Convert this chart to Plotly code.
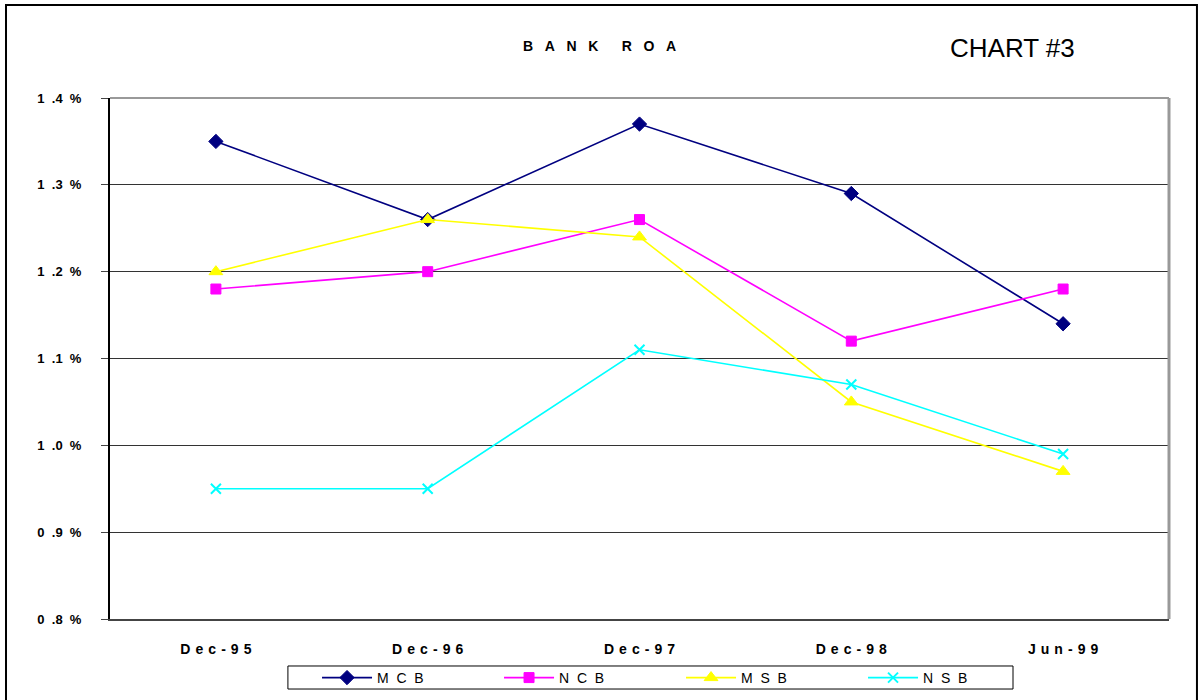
import plotly.graph_objects as go

categories = ["Dec-95", "Dec-96", "Dec-97", "Dec-98", "Jun-99"]
mcb = [1.35, 1.26, 1.37, 1.29, 1.14]
ncb = [1.18, 1.20, 1.26, 1.12, 1.18]
msb = [1.20, 1.26, 1.24, 1.05, 0.97]
nsb = [0.95, 0.95, 1.11, 1.07, 0.99]
y_ticks = [0.8, 0.9, 1.0, 1.1, 1.2, 1.3, 1.4]
series_names = ["MCB", "NCB", "MSB", "NSB"]

NB = "\u00a0"
HS = "\u200a"


def spaced(s, sep):
    return sep.join(list(s))


cat_labels = [spaced(c, NB + HS) for c in categories]
y_labels = [f"{v:.1f}".replace(".", NB + NB + ".") + NB + NB + "%" for v in y_ticks]
legend_names = [spaced(n, NB + NB) for n in series_names]

FONT = "Arial, Liberation Sans, sans-serif"

fig = go.Figure()
styles = [
    ("#000080", "diamond", 11, 1),
    ("#FF00FF", "square", 10, 1),
    ("#FFFF00", "triangle-up", 12, 1),
    ("#00FFFF", "x-thin-open", 10, 2),
]
for name, vals, (color, sym, size, lw) in zip(legend_names, [mcb, ncb, msb, nsb], styles):
    fig.add_trace(go.Scatter(
        x=cat_labels, y=vals, name=name, mode="lines+markers",
        line=dict(color=color, width=1.6),
        marker=dict(symbol=sym, size=size, color=color, line=dict(color=color, width=lw)),
    ))

title_text = (NB * 3).join(list("BANK")) + NB * 6 + (NB * 3).join(list("ROA"))

fig.update_layout(
    width=1199, height=700,
    margin=dict(l=110, r=30, t=98, b=81, autoexpand=False),
    paper_bgcolor="white", plot_bgcolor="white",
    font=dict(family=FONT, color="black"),
    showlegend=True,
    legend=dict(
        orientation="h", x=0.1955, xanchor="left", y=-0.0825, yanchor="top",
        borderwidth=0, bgcolor="rgba(0,0,0,0)",
        font=dict(size=14, family=FONT), entrywidth=117, entrywidthmode="pixels",
        itemwidth=50,
    ),
    xaxis=dict(
        type="category", range=[-0.5, 4.5], showgrid=False,
        tickfont=dict(size=14, family=FONT, weight="bold"),
        showline=True, linecolor="#444", linewidth=2, ticks="",
        ticklabelstandoff=16,
    ),
    yaxis=dict(
        range=[0.8, 1.4], tickvals=y_ticks, ticktext=y_labels,
        tickfont=dict(size=13, family=FONT, weight="bold"),
        showgrid=True, gridcolor="#333", gridwidth=1,
        showline=True, linecolor="black", linewidth=2, ticks="outside",
        ticklen=7, tickcolor="#444", zeroline=False, ticklabelstandoff=17,
    ),
    annotations=[
        dict(text="<b>" + title_text + "</b>", x=0.4627, y=1.0998, xref="paper", yref="paper",
             showarrow=False, font=dict(size=14, family=FONT), xanchor="center", yanchor="middle"),
        dict(text="CHART #3", x=0.852, y=1.096, xref="paper", yref="paper",
             showarrow=False, font=dict(size=26, family=FONT), xanchor="center", yanchor="middle"),
    ],
    shapes=[
        dict(type="line", xref="paper", yref="paper", x0=0, x1=1, y0=1, y1=1,
             line=dict(color="#999", width=2)),
        dict(type="line", xref="paper", yref="paper", x0=1, x1=1, y0=0, y1=1,
             line=dict(color="#999", width=3)),
        dict(type="rect", xref="paper", yref="paper", x0=0.168, x1=0.8527,
             y0=-0.1344, y1=-0.0902, line=dict(color="black", width=1)),
        dict(type="rect", xref="paper", yref="paper", x0=-0.0982, x1=1.0264,
             y0=-0.25, y1=1.1785, line=dict(color="black", width=2)),
    ],
)

fig.write_html(
    "out.html",
    config={"displayModeBar": False},
    post_script="document.body.style.margin='0';document.body.style.overflow='hidden';",
)
